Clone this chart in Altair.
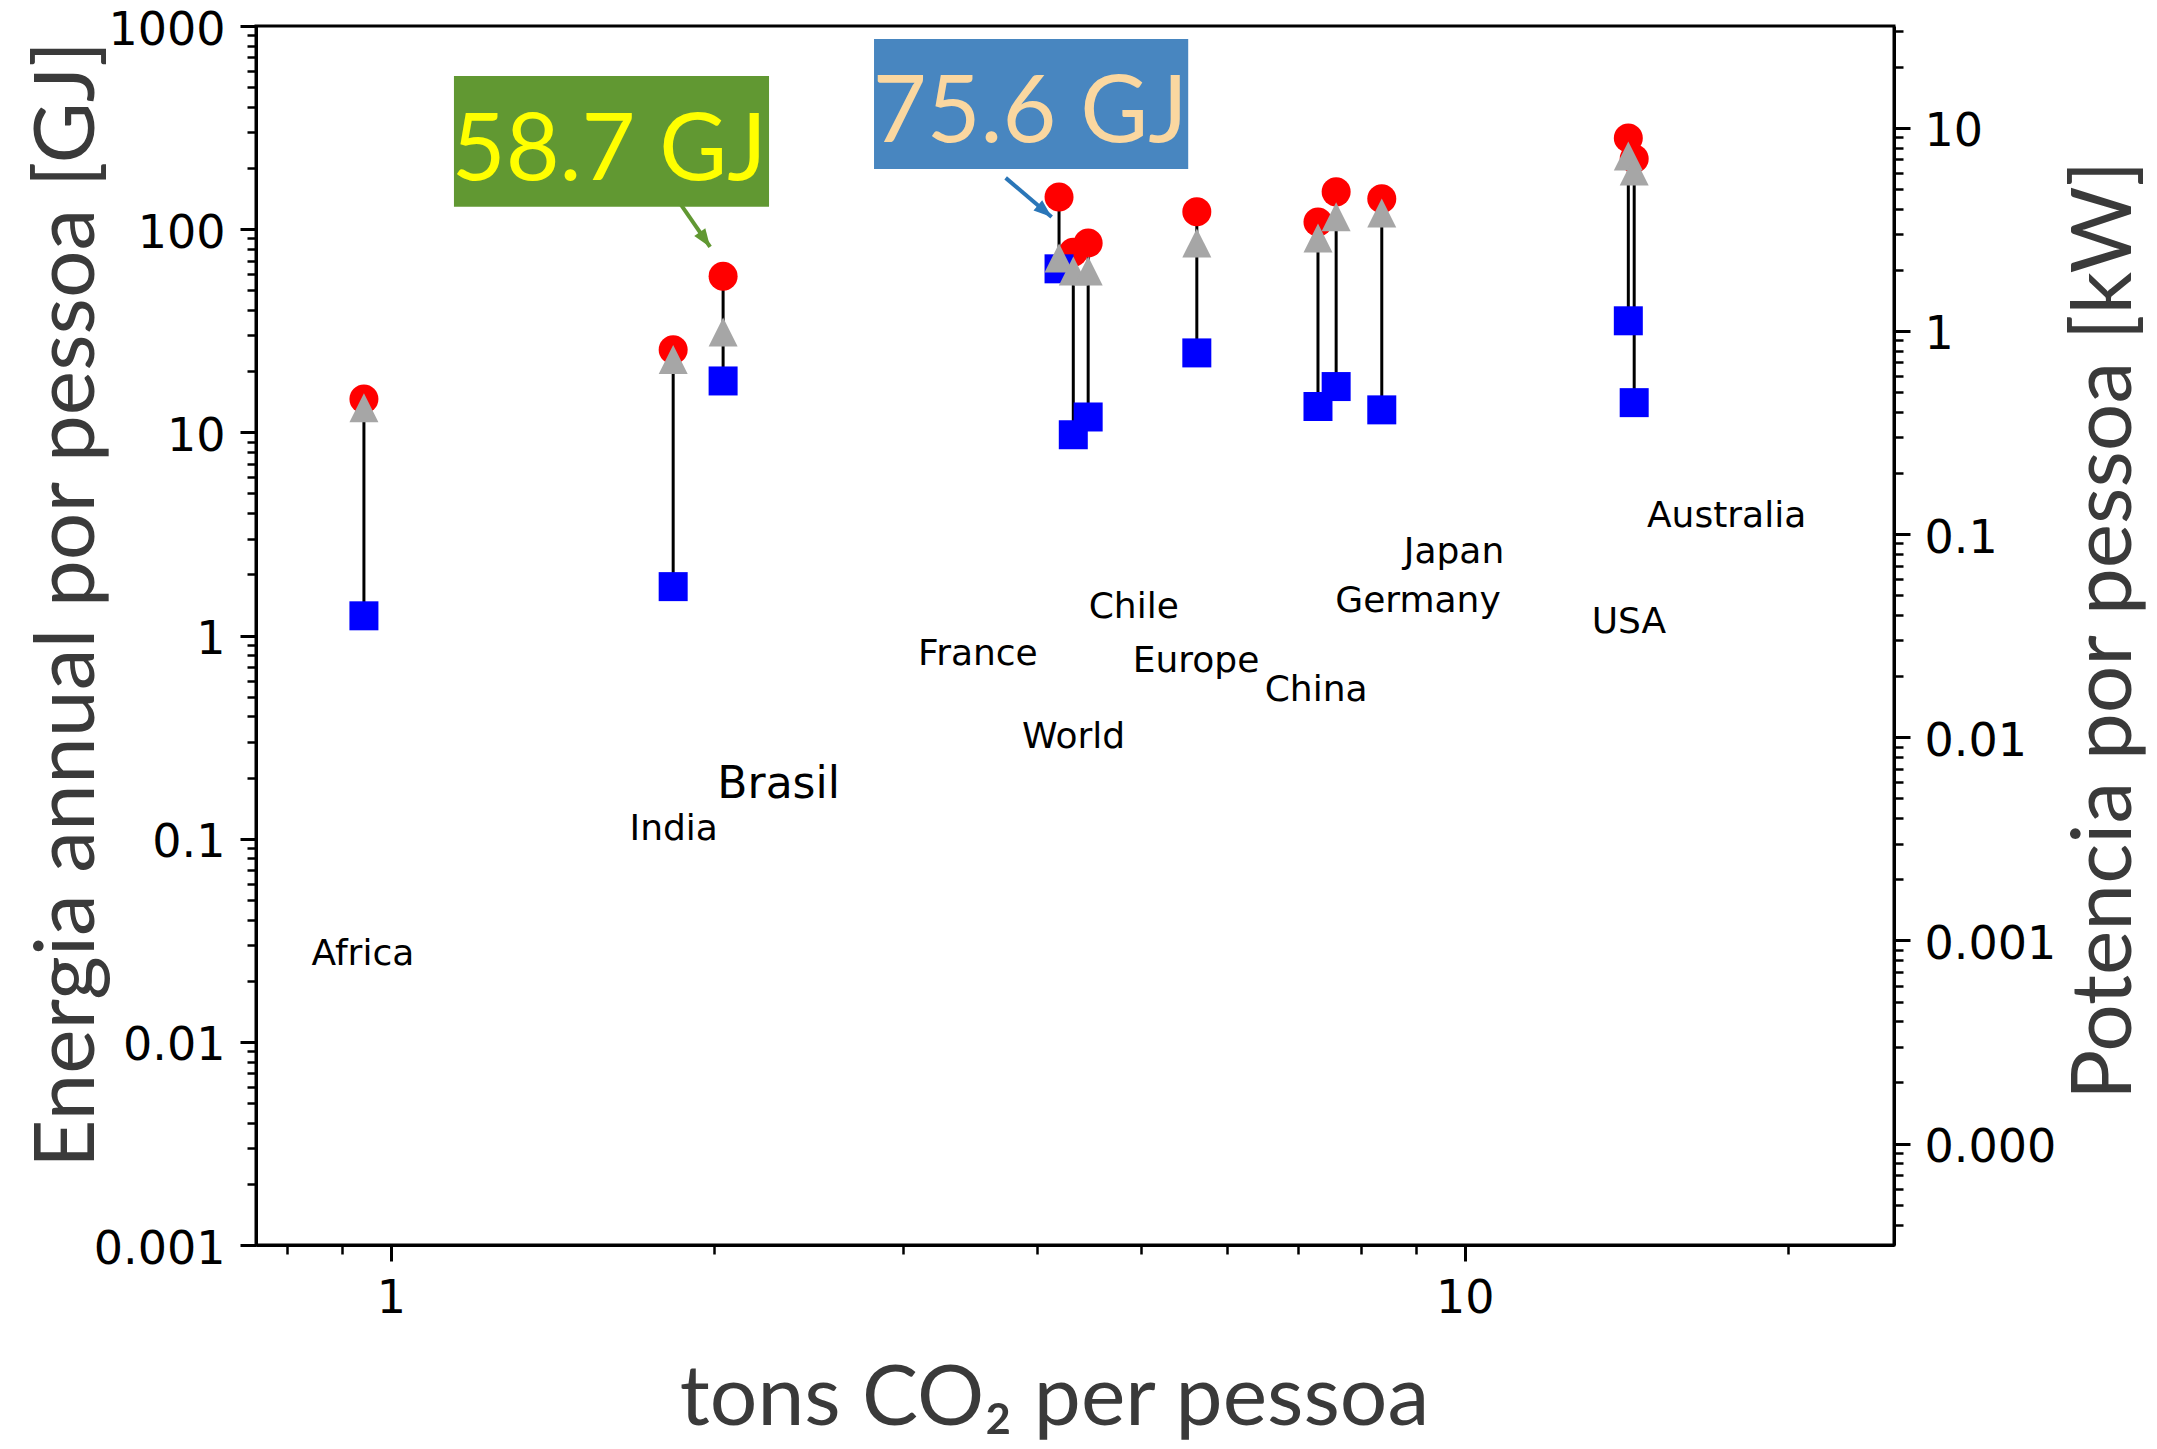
import altair as alt
import pandas as pd

# ---------------- data ----------------
countries = ["Africa", "India", "Brasil", "France", "World", "Chile",
             "Europe", "China", "Germany", "Japan", "USA", "Australia"]
co2_t = [0.944, 1.832, 2.039, 4.19, 4.32, 4.46, 5.63, 7.30, 7.59, 8.37, 14.2, 14.38]
energy_circle_gj = [14.6, 25.5, 58.7, 144, 77, 85.6, 121.7, 108.6, 152.6, 141, 281, 222]
energy_triangle_gj = [13.2, 22.8, 31.2, 72.2, 62.3, 62.3, 85.6, 90.6, 115, 120, 229, 193.6]
energy_square_gj = [1.25, 1.74, 17.9, 63.8, 9.73, 11.9, 24.6, 13.4, 16.8, 12.9, 35.4, 14.0]

# country name labels (placed in data units of the chart)
label_co2 = [0.942, 1.834, 2.297, 3.521, 4.323, 4.918, 5.620, 7.271, 9.046, 9.772, 14.22, 17.53]
label_gj = [0.0270, 0.1116, 0.1833, 0.814, 0.315, 1.387, 0.752, 0.542, 1.476, 2.587, 1.162, 3.862]

# annotations
ann_text = ["58.7 GJ", "75.6 GJ"]
ann_box_x1 = [1.145, 2.818]
ann_box_x2 = [2.25, 5.527]
ann_box_top = [567, 863]
ann_box_bottom = [128.8, 198]
ann_text_x = [1.597, 3.938]
ann_text_y = [174.8, 268.8]
arrow_x1 = [1.855, 3.737]
arrow_y1 = [136.2, 178.8]
arrow_x2 = [1.983, 4.124]
arrow_y2 = [81.8, 114.9]
arrow_angle = [145, 130]
ann_box_color = ["#619832", "#4886C0"]
ann_text_color = ["#FFFF00", "#FAD7A0"]
arrow_color = ["#619832", "#2A76B8"]

# axes
y_ticks = [0.001, 0.01, 0.1, 1, 10, 100, 1000]
y_tick_labels = ["0.001", "0.01", "0.1", "1", "10", "100", "1000"]
kw_ticks = [0.0001, 0.001, 0.01, 0.1, 1, 10]
kw_tick_labels = ["0.000", "0.001", "0.01", "0.1", "1", "10"]
x_ticks = [1, 10]
x_tick_labels = ["1", "10"]
x_minor = [0.8, 0.9, 2, 3, 4, 5, 6, 7, 8, 9, 20]
y_minor = [m * 10.0 ** e for e in range(-3, 3) for m in range(2, 10)]
kw_minor = [m * 10.0 ** e for e in range(-5, 2) for m in range(2, 10)]

GJ_PER_KW_YEAR = 31.536
X_DOMAIN = [0.749, 25.1]
Y_DOMAIN = [0.001, 1000]
KW_DOMAIN = [Y_DOMAIN[0] / GJ_PER_KW_YEAR, Y_DOMAIN[1] / GJ_PER_KW_YEAR]

df = pd.DataFrame({"country": countries, "co2": co2_t, "circle": energy_circle_gj,
                   "triangle": energy_triangle_gj, "square": energy_square_gj})
df_lab = pd.DataFrame({"country": countries, "lx": label_co2, "ly": label_gj})
df_ann = pd.DataFrame({"text": ann_text, "bx1": ann_box_x1, "bx2": ann_box_x2,
                       "by1": ann_box_top, "by2": ann_box_bottom,
                       "tx": ann_text_x, "ty": ann_text_y,
                       "ax1": arrow_x1, "ay1": arrow_y1, "ax2": arrow_x2, "ay2": arrow_y2,
                       "angle": arrow_angle, "boxc": ann_box_color,
                       "textc": ann_text_color, "arrc": arrow_color})


def lbl_expr(vals, labels):
    expr = "''"
    for v, l in zip(reversed(vals), reversed(labels)):
        expr = f"abs(datum.value - {v!r}) < {v * 1e-6!r} ? '{l}' : ({expr})"
    return expr


def xs():
    return alt.Scale(type="log", domain=X_DOMAIN, nice=False)


def ys():
    return alt.Scale(type="log", domain=Y_DOMAIN, nice=False)


def kws():
    return alt.Scale(type="log", domain=KW_DOMAIN, nice=False)


TICK_FONT = "DejaVu Sans"
TITLE_FONT = "Lato"
TITLE_COLOR = "#3a3a3a"

common_major = dict(tickSize=16, tickWidth=3, tickColor="black", domain=True,
                    domainColor="black", domainWidth=3, labelFont=TICK_FONT,
                    labelFontSize=46, labelColor="black", grid=False,
                    labelFlush=False, labelOverlap=False, titleFont=TITLE_FONT,
                    titleFontSize=84, titleFontWeight="normal", titleColor=TITLE_COLOR,
                    titleAlign="center", titleBaseline="alphabetic")
common_minor = dict(tickSize=9, tickWidth=2.5, tickColor="black", domain=False,
                    labels=False, grid=False, title=None)

x_major_axis = alt.Axis(orient="bottom", values=x_ticks, labelExpr=lbl_expr(x_ticks, x_tick_labels),
                        labelPadding=15, title="tons CO\u2082 per pessoa",
                        titleAngle=0, titleX=798, titleY=179, **common_major)
y_major_axis = alt.Axis(orient="left", values=y_ticks, labelExpr=lbl_expr(y_ticks, y_tick_labels),
                        labelPadding=15, labelOffset=4, title="Energia annual por pessoa [GJ]",
                        titleAngle=270, titleX=-163, titleY=578, **common_major)
kw_major_axis = alt.Axis(orient="right", values=kw_ticks, labelExpr=lbl_expr(kw_ticks, kw_tick_labels),
                         labelPadding=14, labelOffset=4, title="Potencia por pessoa [kW]",
                         titleAngle=270, titleX=236, titleY=604, **common_major)
x_minor_axis = alt.Axis(orient="bottom", values=x_minor, **common_minor)
y_minor_axis = alt.Axis(orient="left", values=y_minor, **common_minor)
kw_minor_axis = alt.Axis(orient="right", values=kw_minor, **common_minor)

base = alt.Chart(df)

stems = base.mark_rule(color="black", strokeWidth=3).encode(
    x=alt.X("co2:Q", scale=xs(), axis=x_major_axis),
    y=alt.Y("circle:Q", scale=ys(), axis=y_major_axis),
    y2="square:Q",
)

circles = base.mark_point(shape="circle", filled=True, size=841, color="#ff0000", opacity=1).encode(
    x=alt.X("co2:Q", scale=xs(), axis=None),
    y=alt.Y("circle:Q", scale=ys(), axis=None),
)
squares = base.mark_point(shape="square", filled=True, size=841, color="#0000ff", opacity=1).encode(
    x=alt.X("co2:Q", scale=xs(), axis=None),
    y=alt.Y("square:Q", scale=ys(), axis=None),
)
triangles = base.mark_point(shape="M0,-1L1,1L-1,1Z", filled=True, size=841, color="#a6a6a6",
                            opacity=1).encode(
    x=alt.X("co2:Q", scale=xs(), axis=None),
    y=alt.Y("triangle:Q", scale=ys(), axis=None),
)

minor_lb = base.mark_point(opacity=0).encode(
    x=alt.X("co2:Q", scale=xs(), axis=x_minor_axis),
    y=alt.Y("circle:Q", scale=ys(), axis=y_minor_axis),
)

right_major = base.transform_calculate(kw=f"datum.circle / {GJ_PER_KW_YEAR}").mark_point(opacity=0).encode(
    x=alt.X("co2:Q", scale=xs(), axis=None),
    y=alt.Y("kw:Q", scale=kws(), axis=kw_major_axis),
)
right_minor = base.transform_calculate(kw=f"datum.circle / {GJ_PER_KW_YEAR}").mark_point(opacity=0).encode(
    x=alt.X("co2:Q", scale=xs(), axis=None),
    y=alt.Y("kw:Q", scale=kws(), axis=kw_minor_axis),
)

labels = alt.Chart(df_lab).mark_text(font=TICK_FONT, align="center", baseline="middle",
                                     color="black").encode(
    x=alt.X("lx:Q", scale=xs(), axis=None),
    y=alt.Y("ly:Q", scale=ys(), axis=None),
    text="country:N",
    size=alt.condition(alt.datum.country == "Brasil", alt.value(44), alt.value(36)),
)

ann = alt.Chart(df_ann)
boxes = ann.mark_rect().encode(
    x=alt.X("bx1:Q", scale=xs(), axis=None), x2="bx2:Q",
    y=alt.Y("by1:Q", scale=ys(), axis=None), y2="by2:Q",
    color=alt.Color("boxc:N", scale=None),
)
ann_texts = ann.mark_text(font=TITLE_FONT, fontSize=93, align="center", baseline="alphabetic").encode(
    x=alt.X("tx:Q", scale=xs(), axis=None),
    y=alt.Y("ty:Q", scale=ys(), axis=None),
    text="text:N",
    color=alt.Color("textc:N", scale=None),
)
shafts = ann.mark_rule(strokeWidth=4).encode(
    x=alt.X("ax1:Q", scale=xs(), axis=None), x2="ax2:Q",
    y=alt.Y("ay1:Q", scale=ys(), axis=None), y2="ay2:Q",
    color=alt.Color("arrc:N", scale=None),
)
heads = ann.mark_point(shape="M0,0L-0.75,2L0.75,2Z", filled=True, size=324, opacity=1).encode(
    x=alt.X("ax2:Q", scale=xs(), axis=None),
    y=alt.Y("ay2:Q", scale=ys(), axis=None),
    angle=alt.Angle("angle:Q", scale=None),
    color=alt.Color("arrc:N", scale=None),
)

chart = alt.layer(
    stems, circles, squares, triangles, minor_lb, right_major, right_minor,
    labels, boxes, ann_texts, shafts, heads,
).resolve_scale(
    x="independent", y="independent"
).resolve_axis(
    x="independent", y="independent"
).properties(
    width=1638, height=1219,
    autosize=alt.AutoSizeParams(type="none"),
    padding={"left": 248, "top": 18, "right": 255, "bottom": 196},
    background="white",
).configure_view(
    stroke="black", strokeWidth=3
)

chart.save("out.html", embed_options={"renderer": "svg", "actions": False})
